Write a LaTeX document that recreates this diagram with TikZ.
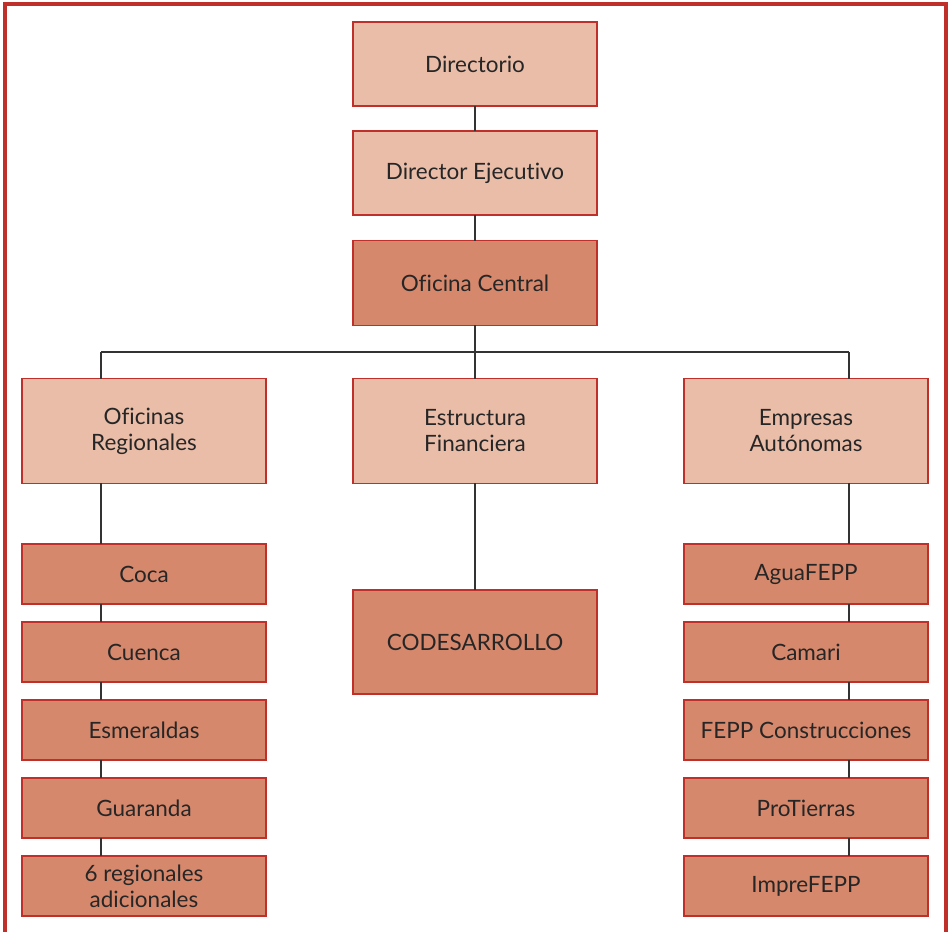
\documentclass[tikz,border=0pt]{standalone}
\usepackage{fontspec}
\setmainfont{Lato}[Ligatures={NoCommon}]
\usepackage{tikz}
\usetikzlibrary{positioning}

\definecolor{rojo}{HTML}{C0302A}
\definecolor{claro}{HTML}{EABDA8}
\definecolor{oscuro}{HTML}{D6886C}
\definecolor{linea}{HTML}{333333}

\tikzset{
    caja/.style={draw=rojo, line width=0.8pt, inner sep=0pt, outer sep=0pt,
        minimum width=4.88cm, align=center, text=black!85,
        font=\fontsize{12.8}{14.8}\selectfont},
    clara/.style={caja, fill=claro},
    oscura/.style={caja, fill=oscuro},
    enlace/.style={draw=linea, line width=0.8pt}
}

\begin{document}
\begin{tikzpicture}[x=0.02cm, y=-0.02cm]
    \useasboundingbox (0,0) rectangle (950,932);
    % Cornice esterna
    \draw[rojo, line width=2pt] (5,940) -- (5,4) -- (946,4) -- (946,940);

    % Vertice
    \node[clara, minimum height=1.68cm]  (dir) at (475,64)  {Directorio};
    \node[clara, minimum height=1.68cm]  (eje) at (475,173) {Director Ejecutivo};
    \node[oscura, minimum height=1.7cm] (ofc) at (475,283) {Oficina Central};

    % Secondo livello
    \node[clara, minimum height=2.1cm] (reg) at (144,431) {Oficinas\\Regionales};
    \node[clara, minimum height=2.1cm] (fin) at (475,431) {Estructura\\Financiera};
    \node[clara, minimum height=2.1cm] (emp) at (806,431) {Empresas\\Autónomas};
    \node[oscura, minimum height=2.08cm] (cod) at (475,642) {CODESARROLLO};

    % Colonne laterali
    \foreach \t [count=\i] in {Coca,Cuenca,Esmeraldas,Guaranda,{6 regionales\\adicionales}} {
        \node[oscura, minimum height=1.2cm] (R\i) at (144, 496+78*\i) {\t};
    }
    \foreach \t [count=\i] in {AguaFEPP,Camari,FEPP Construcciones,ProTierras,ImpreFEPP} {
        \node[oscura, minimum height=1.2cm] (E\i) at (806, 496+78*\i) {\t};
    }

    % Collegamenti
    \coordinate (bus) at (475,352);
    \coordinate (izq) at (101,352);
    \coordinate (der) at (849,352);
    \draw[enlace] (dir) -- (eje);
    \draw[enlace] (eje) -- (ofc);
    \draw[enlace] (ofc.south) -- (bus);
    \draw[enlace] (izq) -- (der);
    \draw[enlace] (izq) -- (reg.north -| izq);
    \draw[enlace] (bus) -- (fin.north);
    \draw[enlace] (der) -- (emp.north -| der);
    \draw[enlace] (fin.south) -- (cod.north);
    \draw[enlace] (reg.south -| izq) -- (R1.north -| izq);
    \draw[enlace] (emp.south -| der) -- (E1.north -| der);
    \foreach \i [evaluate=\i as \j using int(\i+1)] in {1,...,4} {
        \draw[enlace] (R\i.south -| izq) -- (R\j.north -| izq);
        \draw[enlace] (E\i.south -| der) -- (E\j.north -| der);
    }
\end{tikzpicture}
\end{document}
